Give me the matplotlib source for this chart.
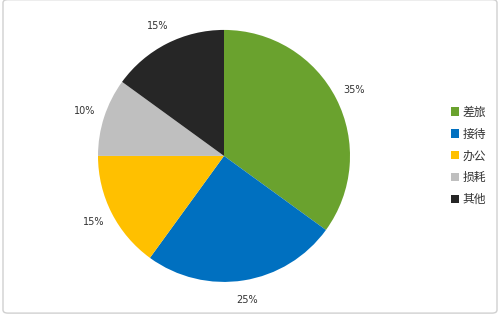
import matplotlib as mpl
mpl.use('Agg')
import matplotlib.pyplot as plt
from matplotlib.patches import FancyBboxPatch

plt.rcParams['font.family'] = ['Noto Sans CJK SC', 'DejaVu Sans']

categories = ['差旅', '接待', '办公', '损耗', '其他']
shares = [35, 25, 15, 10, 15]
colors = ['#6aa22e', '#0070c0', '#ffc000', '#bfbfbf', '#262626']

fig = plt.figure(figsize=(5, 3.15), dpi=100)

# light chart frame (kept behind the pie)
frame = FancyBboxPatch((0.006, 0.006), 0.988, 0.995,
                       boxstyle='round,pad=0,rounding_size=0.01',
                       transform=fig.transFigure, facecolor='none',
                       edgecolor='#d0d0d0', linewidth=1, zorder=-5)
fig.patches.append(frame)

ax = fig.add_axes([0.196, 0.105, 0.504, 0.8])
wedges, texts, autotexts = ax.pie(shares, colors=colors, startangle=90,
                                  counterclock=False, autopct='%d%%',
                                  pctdistance=1.16, radius=1,
                                  textprops={'fontsize': 7, 'color': '#333333',
                                             'family': 'DejaVu Sans'})
ax.set_xlim(-1, 1)
ax.set_ylim(-1, 1)
ax.set_aspect('equal')

leg = fig.legend(wedges, categories, loc='center left',
                 bbox_to_anchor=(0.881, 0.505), frameon=False,
                 fontsize=8.5, handlelength=0.7, handleheight=0.7,
                 handletextpad=0.3, labelspacing=0.75)
for t in leg.get_texts():
    t.set_color('#333333')

fig.savefig('out.png', dpi=100)
